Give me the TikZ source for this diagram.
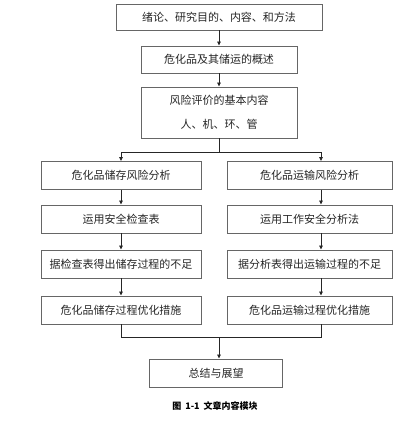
\documentclass[tikz,border=0pt]{standalone}
\usepackage{fontspec}
\setmainfont{Noto Sans CJK SC}
\usetikzlibrary{calc,positioning,arrows.meta}
\tikzset{
  box/.style = {draw = black!60, line width = .9pt, fill = white, minimum height = 28pt,
    inner sep = 0pt, text = black!85, font = \fontsize{11}{24}\selectfont, align = center},
  arr/.style = {draw = black!85, line width = .8pt, -{Triangle[length=4pt,width=3.6pt]}},
  link/.style = {draw = black!85, line width = .8pt},
  caption/.style = {text = black, font = \fontsize{9}{10}\selectfont\bfseries}
}
\begin{document}
\begin{tikzpicture}[x=1pt,y=-1pt]
  \useasboundingbox (0,0) rectangle (407,429);
  % top chain
  \node[box, minimum width = 206pt, minimum height = 26pt] (intro) at (219,17) {绪论、研究目的、内容、和方法};
  \node[box, minimum width = 156pt, minimum height = 27pt] (over) at (219,59.5) {危化品及其储运的概述};
  \node[box, minimum width = 156pt, minimum height = 51pt] (basic) at (219,112.5) {风险评价的基本内容\\人、机、环、管};
  \draw[arr] (intro.south) -- (intro.south |- over.north);
  \draw[arr] (over.south) -- (over.south |- basic.north);
  % two columns
  \foreach \i/\yi/\ls/\rs in {1/175.5/危化品储存风险分析/危化品运输风险分析,
                              2/219/运用安全检查表/运用工作安全分析法,
                              3/264/据检查表得出储存过程的不足/据分析表得出运输过程的不足,
                              4/310/危化品储存过程优化措施/危化品运输过程优化措施}{
    \node[box, minimum width = 160pt] (st\i) at (121,\yi) {\ls};
    \node[box, minimum width = 165pt] (tr\i) at (309.5,\yi) {\rs};
  }
  \draw[link] (basic.south) -- ++(0,14) coordinate (split);
  \draw[arr] (split) -| (st1.north);
  \draw[arr] (split) -| ([xshift=11.5pt]tr1.north);
  \foreach \i in {1,2,3}{
    \pgfmathtruncatemacro\j{\i+1}
    \draw[arr] (st\i.south) -- (st\j.north);
    \draw[arr] ([xshift=11.5pt]tr\i.south) -- ([xshift=11.5pt]tr\j.north);
  }
  % merge
  \node[box, minimum width = 133pt] (sum) at (216,373) {总结与展望};
  \draw[link] (st4.south) -- ++(0,13) coordinate (merge) -| ([xshift=11.5pt]tr4.south);
  \draw[arr] (merge -| basic.south) -- (basic.south |- sum.north);
  \node[caption] (cap) at (215,406) {图\hspace{4pt}1-1\hspace{4pt}文章内容模块};
\end{tikzpicture}
\end{document}
